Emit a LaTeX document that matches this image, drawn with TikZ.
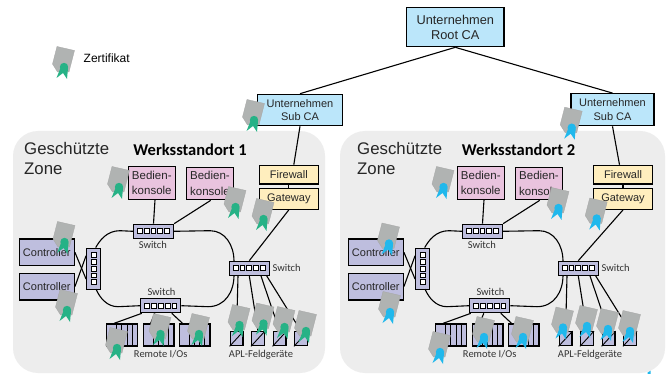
\documentclass[tikz,border=0pt]{standalone}
\usepackage{fontspec}
\setmainfont{Liberation Sans}
\newfontfamily\calfont{Carlito}
\definecolor{zonegray}{RGB}{237,237,237}
\definecolor{certgray}{RGB}{176,179,178}
\definecolor{certgreen}{RGB}{38,178,134}
\definecolor{certblue}{RGB}{32,184,236}
\definecolor{cabl}{RGB}{187,230,250}
\definecolor{pinkb}{RGB}{233,195,222}
\definecolor{yellowb}{RGB}{255,238,190}
\definecolor{lilacb}{RGB}{190,190,222}
\tikzset{
  x=1pt,y=-1pt,
  box/.style={draw=black,line width=1.25pt,inner sep=0pt,align=center,font=\fontsize{11}{13.5}\selectfont,text=black!85},
  cabox/.style={box,fill=cabl},
  consolebox/.style={box,fill=pinkb,minimum width=47pt,minimum height=32.5pt,font=\fontsize{11.5}{15.5}\selectfont},
  fwbox/.style={box,fill=yellowb,minimum width=59pt},
  ctrlbox/.style={box,fill=lilacb,minimum width=55pt,minimum height=26.7pt},
  swbox/.style={box,fill=lilacb,minimum width=40pt,minimum height=14pt},
  swvbox/.style={box,fill=lilacb,minimum width=14pt,minimum height=41pt},
  rackbox/.style={box,fill=lilacb,minimum width=30.6pt,minimum height=22pt},
  aplbox/.style={box,fill=lilacb,minimum width=12.8pt,minimum height=14pt},
  port/.style={draw=black,fill=white,line width=.9pt,minimum size=4.8pt,inner sep=0pt},
  lbl/.style={inner sep=0pt,font=\calfont\fontsize{10.5}{12}\selectfont,text=black!80},
  zonetxt/.style={anchor=north west,inner sep=0pt,align=left,font=\fontsize{16.8}{19.2}\selectfont,text=black!85},
  titletxt/.style={inner sep=0pt,font=\calfont\bfseries\fontsize{16.5}{18}\selectfont},
  zone/.style={fill=zonegray,rounded corners=25pt},
  link/.style={draw=black,line width=1.1pt},
  stripe/.style={draw=black,line width=.9pt},
}
% certificate centred on its seal: #1 x, #2 y, #3 seal colour
\newcommand{\certat}[3]{%
  \fill[certgray,draw=black!35,line width=.3pt] (#1-7,#2-20.5) -- (#1+10.5,#2-16.5) -- (#1+5,#2+5) -- (#1-6.5,#2+5) -- (#1-11.5,#2-3) -- cycle;
  \fill[#3] (#1-3.5,#2+1) -- (#1-7.5,#2+11) -- (#1-1,#2+6) -- (#1+3,#2+12) -- (#1+4,#2+1) -- cycle;
  \fill[#3] (#1,#2) circle (4.2);
}
\newcommand{\sitegear}[2]{%
\begin{scope}[xshift=#1]
  \node[consolebox] (#2bedA) at (151.8,183) {Bedien-\\konsole};
  \node[consolebox] (#2bedB) at (210,183.5) {Bedien-\\konsole};
  \node[ctrlbox] (#2ctrlA) at (46.8,252.3) {Controller};
  \node[ctrlbox] (#2ctrlB) at (46.8,286.6) {Controller};
  \node[swvbox] (#2swL) at (93.7,268.7) {};
  \node[swbox] (#2swT) at (153.5,231.3) {};
  \node[swbox] (#2swR) at (249.3,268.3) {};
  \node[swbox] (#2swB) at (160.8,305.7) {};
  \foreach \p in {-13.6,-6.8,0,6.8,13.6} {
    \node[port] at (93.7,268.7+\p) {};
    \node[port] at (153.5+\p,231.3) {};
    \node[port] at (249.3+\p,268.3) {};
    \node[port] at (160.8+\p,305.7) {};
  }
  \node[lbl] (#2lT) at (152.8,244.5) {Switch};
  \node[lbl,anchor=west] (#2lR) at (272.5,267.5) {Switch};
  \node[lbl] (#2lB) at (161.5,291.5) {Switch};
  % ring
  \draw[link] ([xshift=2pt]#2swL.north) .. controls (100,240) and (107,230.7) .. (120,230.7) -- (#2swT.west);
  \draw[link] (#2swT.east) -- (210,230.7) .. controls (225,230.7) and (234,245) .. (234,261.3);
  \draw[link] (234,275.3) .. controls (234,292) and (225,306.7) .. (208,306.7) -- (#2swB.east);
  \draw[link] (#2swB.west) -- (118,306.7) .. controls (107,306.7) and (100,298) .. (96,289.2);
  % spurs
  \draw[link] ([yshift=0pt]#2ctrlA.east) -- ([yshift=-10.4pt]#2swL.west);
  \draw[link] ([yshift=0pt]#2ctrlB.east) -- ([yshift=13pt]#2swL.west);
  \draw[link] ([xshift=3.2pt]#2bedA.south) -- (#2swT.north);
  \draw[link] ([xshift=.7pt]#2bedB.south) -- (#2swT.north east);
\end{scope}
}
\newcommand{\siteracks}[2]{%
\begin{scope}[xshift=#1]
  \node[rackbox] (#2rA) at (122,335) {};
  \node[rackbox] (#2rB) at (158.6,335) {};
  \node[rackbox] (#2rC) at (194.6,335) {};
  \foreach \r in {122,158.6,194.6} \foreach \d in {-5.5,-.5,5,10}
    \draw[stripe] (\r+\d,324) -- (\r+\d,346);
  \node[aplbox] (#2dA) at (236.6,338.7) {};
  \node[aplbox] (#2dB) at (258,338.7) {};
  \node[aplbox] (#2dC) at (279.6,338.7) {};
  \node[aplbox] (#2dD) at (301,338.7) {};
  \foreach \n in {dA,dB,dC,dD} \draw[stripe] (#2\n.south west) -- (#2\n.north east);
  \draw[link] ([xshift=-19pt]#2swB.south) -- ([xshift=-8pt]#2rA.north);
  \draw[link] ([xshift=-6pt]#2swB.south) -- ([xshift=-8pt]#2rB.north);
  \draw[link] ([xshift=11pt]#2swB.south) -- ([xshift=-12pt]#2rC.north);
  \draw[link] ([xshift=-11.3pt]#2swR.south) -- (#2dA.north);
  \draw[link] ([xshift=0pt]#2swR.south) -- (#2dB.north);
  \draw[link] ([xshift=11.7pt]#2swR.south) -- (#2dC.north);
  \draw[link] ([xshift=17.4pt]#2swR.south) -- (#2dD.north);
  \node[lbl] (#2lIO) at (160.7,354.5) {Remote I/Os};
  \node[lbl,font=\calfont\fontsize{10.5}{12}\selectfont] (#2lAPL) at (261,354.5) {APL-Feldgeräte};
\end{scope}
}
\begin{document}
\begin{tikzpicture}
\useasboundingbox (0,0) rectangle (667,374);
\fill[white] (0,0) rectangle (667,374);
\fill[zone] (13,131) rectangle (325,373);
\fill[zone] (340,131) rectangle (665,373);
\node[cabox,minimum width=97.3pt,minimum height=39pt,font=\fontsize{12.8}{15.5}\selectfont] (root) at (455.3,27.2) {Unternehmen\\Root CA};
\node[cabox,minimum width=85.4pt,minimum height=31.4pt] (subA) at (300,110) {Unternehmen\\Sub CA};
\node[cabox,minimum width=83pt,minimum height=32pt] (subB) at (612.5,109.7) {Unternehmen\\Sub CA};
\draw[link] (root.south) -- (subA.north);
\draw[link] (root.south) -- (subB.north);
\node[zonetxt] (zoneA) at (24,142.5) {Geschützte\\Zone};
\node[zonetxt] (zoneB) at (357,142.5) {Geschützte\\Zone};
\node[titletxt] (titleA) at (190,150) {Werksstandort 1};
\node[titletxt] (titleB) at (518.5,150) {Werksstandort 2};
\node[anchor=west,inner sep=0pt,font=\fontsize{12}{13}\selectfont] (legend) at (83.5,58) {Zertifikat};
% firewalls
\node[fwbox,minimum height=18.7pt] (fwA) at (288.8,174.7) {Firewall};
\node[fwbox,minimum height=20.6pt] (gwA) at (288.8,199) {Gateway};
\node[fwbox,minimum height=18.7pt] (fwB) at (623,174.7) {Firewall};
\node[fwbox,minimum height=20.6pt] (gwB) at (623,199) {Gateway};
\draw[link] (subA.south) -- ([xshift=5pt]fwA.north);
\draw[link] (fwA.south) -- (gwA.north);
\draw[link] (subB.south) -- ([xshift=-3.5pt]fwB.north);
\draw[link] (fwB.south) -- (gwB.north);
\sitegear{0pt}{a}
\sitegear{329pt}{b}
\draw[link] (gwA.south) -- (aswR.north);
\draw[link] (gwB.south) -- (bswR.north);
\siteracks{0pt}{a}
\siteracks{329pt}{b}
% stray sliver at the zone edge
\fill[certblue] (647.5,372.5) -- (650.7,370.7) -- (650.7,374) -- (647.5,374) -- cycle;
% certificates
\certat{64}{67}{certgreen}
\certat{254}{120}{certgreen}
\certat{119}{187}{certgreen}
\certat{235.5}{207}{certgreen}
\certat{263.5}{219}{certgreen}
\certat{64.5}{242}{certgreen}
\certat{67}{310}{certgreen}
\certat{117}{348}{certgreen}
\certat{160.5}{334}{certgreen}
\certat{199}{334}{certgreen}
\certat{239.5}{325}{certgreen}
\certat{263.5}{323.5}{certgreen}
\certat{284.5}{327}{certgreen}
\certat{306}{331}{certgreen}
\certat{571.7}{127.7}{certblue}
\certat{443.5}{187}{certblue}
\certat{558.5}{208}{certblue}
\certat{596.7}{218.5}{certblue}
\certat{389}{243.5}{certblue}
\certat{390}{312}{certblue}
\certat{440}{352}{certblue}
\certat{484}{337}{certblue}
\certat{523}{337}{certblue}
\certat{563}{327.5}{certblue}
\certat{587}{326}{certblue}
\certat{608}{329}{certblue}
\certat{630}{331}{certblue}
\end{tikzpicture}
\end{document}
